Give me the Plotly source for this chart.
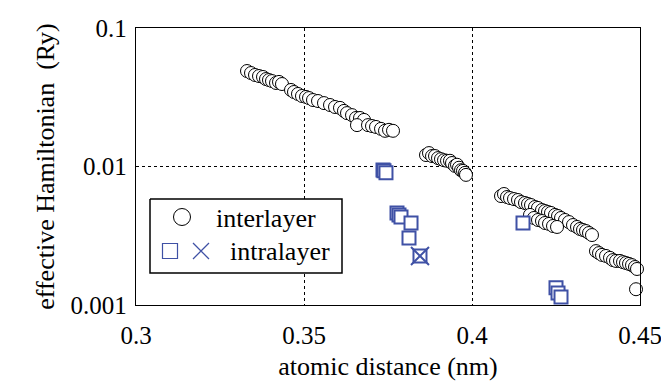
import plotly.graph_objects as go

# ---------------- data ----------------
inter_x = [0.33304, 0.33423, 0.33542, 0.33661, 0.33780, 0.33869, 0.33958, 0.34048, 0.34167, 0.34256,
           0.34345, 0.34613, 0.34702, 0.34821, 0.34940, 0.35060, 0.35149, 0.35268, 0.35417, 0.35595,
           0.35774, 0.35923, 0.36071, 0.36190, 0.36280, 0.36429, 0.36548, 0.36667, 0.36786, 0.36577,
           0.36905, 0.37024, 0.37143, 0.37292, 0.37411, 0.37530, 0.37649,
           0.38631, 0.38720, 0.38810, 0.38899, 0.38988, 0.39077, 0.39167, 0.39256, 0.39345, 0.39405,
           0.39494, 0.39554, 0.39613, 0.39673, 0.39732, 0.39792, 0.39821,
           0.40863, 0.40952, 0.41042, 0.41131, 0.41250, 0.41369, 0.41458, 0.41577, 0.41667, 0.41756,
           0.41875, 0.41964, 0.42083, 0.42173, 0.42262, 0.42351, 0.42470, 0.42560, 0.42649, 0.42768,
           0.42887, 0.43006, 0.43125, 0.43214, 0.43304, 0.43393, 0.43482, 0.43571,
           0.41726, 0.41845, 0.41964, 0.42083, 0.42173, 0.42292, 0.42411, 0.42530,
           0.43690, 0.43780, 0.43869, 0.43988, 0.44107, 0.44196, 0.44286, 0.44405, 0.44494, 0.44583,
           0.44673, 0.44762, 0.44851, 0.44911, 0.44881]
inter_y = [0.0489, 0.0473, 0.0458, 0.0450, 0.0443, 0.0428, 0.0421, 0.0414, 0.0401, 0.0408,
           0.0394, 0.0357, 0.0345, 0.0334, 0.0323, 0.0318, 0.0312, 0.0302, 0.0297, 0.0287,
           0.0278, 0.0269, 0.0265, 0.0252, 0.0243, 0.0235, 0.0224, 0.0224, 0.0217, 0.0199,
           0.0199, 0.0196, 0.0193, 0.0187, 0.0181, 0.0184, 0.0181,
           0.0121, 0.0125, 0.0119, 0.0119, 0.0115, 0.0113, 0.0111, 0.0110, 0.0110, 0.0106,
           0.0101, 0.0103, 0.0098, 0.0094, 0.0093, 0.0090, 0.0087,
           0.00612, 0.00633, 0.00602, 0.00592, 0.00582, 0.00573, 0.00554, 0.00545, 0.00536, 0.00527,
           0.00510, 0.00502, 0.00485, 0.00477, 0.00469, 0.00462, 0.00447, 0.00439, 0.00425, 0.00411,
           0.00397, 0.00378, 0.00366, 0.00354, 0.00348, 0.00342, 0.00331, 0.00320,
           0.00447, 0.00425, 0.00411, 0.00404, 0.00391, 0.00385, 0.00372, 0.00366,
           0.00245, 0.00237, 0.00230, 0.00226, 0.00219, 0.00211, 0.00208, 0.00208, 0.00204, 0.00201,
           0.00198, 0.00194, 0.00188, 0.00182, 0.00130]

intra_sq_x = [0.37351, 0.37381, 0.37440, 0.37768, 0.37827, 0.37887, 0.38185, 0.38125, 0.38452,
              0.41518, 0.42500, 0.42560, 0.42649]
intra_sq_y = [0.00943, 0.00930, 0.00900, 0.00462, 0.00447, 0.00432, 0.00391, 0.00305, 0.00226,
              0.00391, 0.00133, 0.00122, 0.00114]

intra_x_x = [0.38452]
intra_x_y = [0.00226]

x_tick_vals = [0.3, 0.35, 0.4, 0.45]
x_tick_text = ["0.3", "0.35", "0.4", "0.45"]
y_tick_vals = [0.001, 0.01, 0.1]
y_tick_text = ["0.001", "0.01", "0.1"]

series_names = ["interlayer", "intralayer"]

BLUE = "#3F51A5"
FONT = "Liberation Serif, Times New Roman, serif"

fig = go.Figure()

fig.add_trace(go.Scatter(
    x=inter_x, y=inter_y, mode="markers", name=series_names[0], cliponaxis=False,
    marker=dict(symbol="circle", size=13, color="white", line=dict(color="black", width=1)),
    showlegend=False))
fig.add_trace(go.Scatter(
    x=intra_sq_x, y=intra_sq_y, mode="markers", name=series_names[1], cliponaxis=False,
    marker=dict(symbol="square", size=13, color="white", line=dict(color=BLUE, width=2)),
    showlegend=False))
fig.add_trace(go.Scatter(
    x=intra_x_x, y=intra_x_y, mode="markers", name=series_names[1], cliponaxis=False,
    marker=dict(symbol="x-thin", size=18, color=BLUE, line=dict(color=BLUE, width=2)),
    showlegend=False))

# ---- manual legend on an overlay axis whose units are page pixels ----
fig.add_trace(go.Scatter(x=[142, 334, 334, 142, 142], y=[191, 191, 265, 265, 191],
                         xaxis="x2", yaxis="y2", mode="lines", fill="toself", fillcolor="white",
                         line=dict(color="black", width=1.5), showlegend=False, hoverinfo="skip"))
fig.add_trace(go.Scatter(x=[174], y=[209], xaxis="x2", yaxis="y2", mode="markers", showlegend=False,
                         hoverinfo="skip",
                         marker=dict(symbol="circle", size=17, color="white", line=dict(color="black", width=1))))
fig.add_trace(go.Scatter(x=[162], y=[243], xaxis="x2", yaxis="y2", mode="markers", showlegend=False,
                         hoverinfo="skip",
                         marker=dict(symbol="square", size=15, color="white", line=dict(color=BLUE, width=1.2))))
fig.add_trace(go.Scatter(x=[193], y=[243], xaxis="x2", yaxis="y2", mode="markers", showlegend=False,
                         hoverinfo="skip",
                         marker=dict(symbol="x-thin", size=16, color=BLUE, line=dict(color=BLUE, width=1.3))))

fig.add_annotation(x=206, y=210, xref="x2", yref="y2", text=series_names[0], showarrow=False,
                   xanchor="left", yanchor="middle", font=dict(family=FONT, size=26, color="black"))
fig.add_annotation(x=220, y=243, xref="x2", yref="y2", text=series_names[1], showarrow=False,
                   xanchor="left", yanchor="middle", font=dict(family=FONT, size=26, color="black"))

fig.update_layout(
    width=669, height=384,
    margin=dict(l=128, r=37, t=20, b=87),
    paper_bgcolor="white", plot_bgcolor="white",
    font=dict(family=FONT, size=24, color="black"),
    showlegend=False,
    xaxis=dict(
        range=[0.3, 0.45], tickvals=x_tick_vals, ticktext=x_tick_text, automargin=False,
        showgrid=True, gridcolor="black", gridwidth=1, griddash="dot",
        showline=True, linecolor="black", linewidth=1.3, mirror=True,
        ticks="", zeroline=False, ticklabelstandoff=8,
        tickfont=dict(family=FONT, size=25),
        title=dict(text="atomic distance (nm)", font=dict(family=FONT, size=26), standoff=8),
    ),
    yaxis=dict(
        type="log", range=[-3, -1], tickvals=y_tick_vals, ticktext=y_tick_text, automargin=False,
        showgrid=True, gridcolor="black", gridwidth=1, griddash="dot",
        showline=True, linecolor="black", linewidth=1.3, mirror=True,
        ticks="", zeroline=False, ticklabelstandoff=3, ticklabeloverflow="allow",
        tickfont=dict(family=FONT, size=25),
        title=dict(text="effective Hamiltonian  (Ry)", font=dict(family=FONT, size=26), standoff=8),
    ),
    xaxis2=dict(overlaying="x", range=[128, 632], visible=False, fixedrange=True),
    yaxis2=dict(overlaying="y", range=[297, 20], visible=False, fixedrange=True),
)

fig.write_html("out.html")
